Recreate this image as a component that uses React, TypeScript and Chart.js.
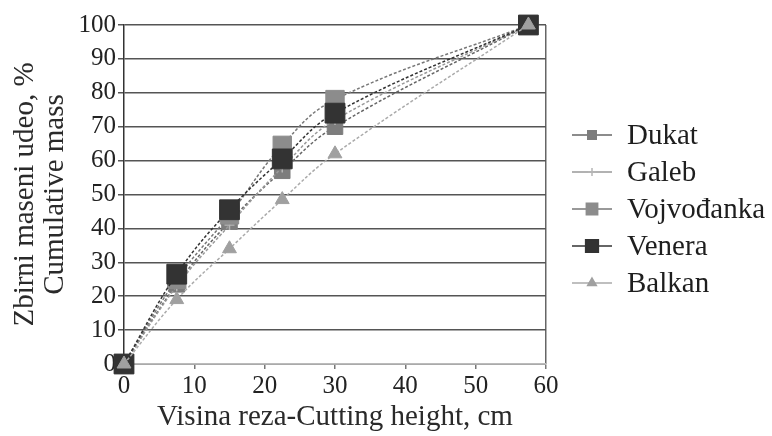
import React, { useEffect, useRef } from "react";
import { Chart, registerables } from "chart.js";
import { drawPoint } from "chart.js/helpers";

Chart.register(...registerables);

const heights = [0, 7.5, 15, 22.5, 30, 57.5];
const seriesNames = ["Dukat", "Galeb", "Vojvođanka", "Venera", "Balkan"];
const dukat = [0, 23.5, 42, 57, 70, 100];
const galeb = [0, 23, 41, 58, 72, 100];
const vojvodjanka = [0, 25, 44, 64.5, 78, 100];
const venera = [0, 26.5, 45.5, 60.5, 74, 100];
const balkan = [0, 19, 34, 48.5, 62, 100];
const xTicks = [0, 10, 20, 30, 40, 50, 60];
const yTicks = [0, 10, 20, 30, 40, 50, 60, 70, 80, 90, 100];

const SERIF = "'Liberation Serif', 'Times New Roman', serif";

const styles = [
  { color: "#666", point: "#7d7d7d", style: "rect", r: 11, lr: 6, dash: [3, 2], order: 5 },
  { color: "#999", point: "#b5b5b5", style: "cross", r: 5, lr: 4, dash: [3, 2], order: 4 },
  { color: "#777", point: "#8c8c8c", style: "rect", r: 13, lr: 8, dash: [3, 2], order: 3 },
  { color: "#333", point: "#333333", style: "rect", r: 14, lr: 9, dash: [3, 2], order: 2 },
  { color: "#aaa", point: "#a0a0a0", style: "triangle", r: 8, lr: 5, dash: [3, 2], order: 1 },
];

const legendPlugin = {
  id: "excelLegend",
  afterDraw(chart: any) {
    const { ctx, chartArea } = chart;
    const x0 = chartArea.right + 26;
    const yStart = chartArea.top + 110;
    const step = 37;
    ctx.save();
    chart.data.datasets.forEach((ds: any, i: number) => {
      const st = styles[i];
      const y = yStart + i * step;
      ctx.beginPath();
      ctx.strokeStyle = st.color;
      ctx.lineWidth = 1.5;
      ctx.setLineDash([]);
      ctx.moveTo(x0, y);
      ctx.lineTo(x0 + 40, y);
      ctx.stroke();
      ctx.fillStyle = st.point;
      ctx.strokeStyle = st.point;
      drawPoint(ctx, { pointStyle: st.style, radius: st.lr, rotation: 0, borderWidth: st.style === "cross" ? 1.5 : 1 }, x0 + 20, y);
      ctx.fillStyle = "#1e1e1e";
      ctx.font = `29px ${SERIF}`;
      ctx.textBaseline = "middle";
      ctx.textAlign = "left";
      ctx.fillText(ds.label, x0 + 55, y + 1);
    });
    ctx.restore();
  },
};

export default function App() {
  const ref = useRef<HTMLCanvasElement | null>(null);
  useEffect(() => {
    if (!ref.current) return;
    const all = [dukat, galeb, vojvodjanka, venera, balkan];
    const chart = new Chart(ref.current, {
      type: "line",
      data: {
        datasets: all.map((vals, i) => ({
          label: seriesNames[i],
          data: heights.map((h, j) => ({ x: h, y: vals[j] })),
          borderColor: styles[i].color,
          borderWidth: 1.5,
          borderDash: styles[i].dash,
          backgroundColor: styles[i].point,
          pointBackgroundColor: styles[i].point,
          pointBorderColor: styles[i].point,
          pointBorderWidth: styles[i].style === "cross" ? 1.5 : 1,
          pointStyle: styles[i].style,
          pointRadius: styles[i].r,
          tension: 0.4,
          fill: false,
          clip: false,
          order: styles[i].order,
        })),
      },
      plugins: [legendPlugin],
      options: {
        animation: false,
        responsive: true,
        maintainAspectRatio: false,
        layout: { padding: { top: 25, right: 226, bottom: 0, left: 0 } },
        plugins: { legend: { display: false }, tooltip: { enabled: false } },
        scales: {
          x: {
            type: "linear",
            min: 0,
            max: 60,
            afterBuildTicks: (s: any) => { s.ticks = xTicks.map((v) => ({ value: v })); },
            afterFit: (s: any) => { s.height = 72; },
            ticks: { color: "#222", font: { family: SERIF, size: 25 }, padding: 2 },
            grid: {
              color: (c: any) => (c.tick && c.tick.value === 60 ? "#666" : "rgba(0,0,0,0)"),
              tickColor: "#777",
              tickLength: 5,
              lineWidth: 1.5,
            },
            border: { display: true, color: "#aaa", width: 1 },
            title: {
              display: true,
              text: "Visina reza-Cutting height, cm",
              color: "#2a2a2a",
              font: { family: SERIF, size: 29, lineHeight: 1.2 },
              padding: { top: 0, bottom: 1 },
            },
          },
          y: {
            type: "linear",
            min: 0,
            max: 100,
            afterBuildTicks: (s: any) => { s.ticks = yTicks.map((v) => ({ value: v })); },
            afterFit: (s: any) => { s.width = 124; },
            ticks: { color: "#222", font: { family: SERIF, size: 25 }, padding: 2 },
            grid: {
              color: (c: any) => (c.tick && c.tick.value === 0 ? "#bbb" : "#555"),
              tickColor: "#555",
              tickLength: 6,
              lineWidth: 1.5,
            },
            border: { display: true, color: "#333", width: 1.5 },
            title: {
              display: true,
              text: ["Zbirni maseni udeo, %", "Cumulative mass"],
              color: "#2a2a2a",
              font: { family: SERIF, size: 29, lineHeight: 1.04 },
              padding: { top: 10, bottom: 0 },
            },
          },
        },
      },
    });
    return () => chart.destroy();
  }, []);
  return (
    <div style={{ position: "fixed", left: 0, top: 0, width: 772, height: 436, background: "#fff" }}>
      <canvas ref={ref} />
    </div>
  );
}
